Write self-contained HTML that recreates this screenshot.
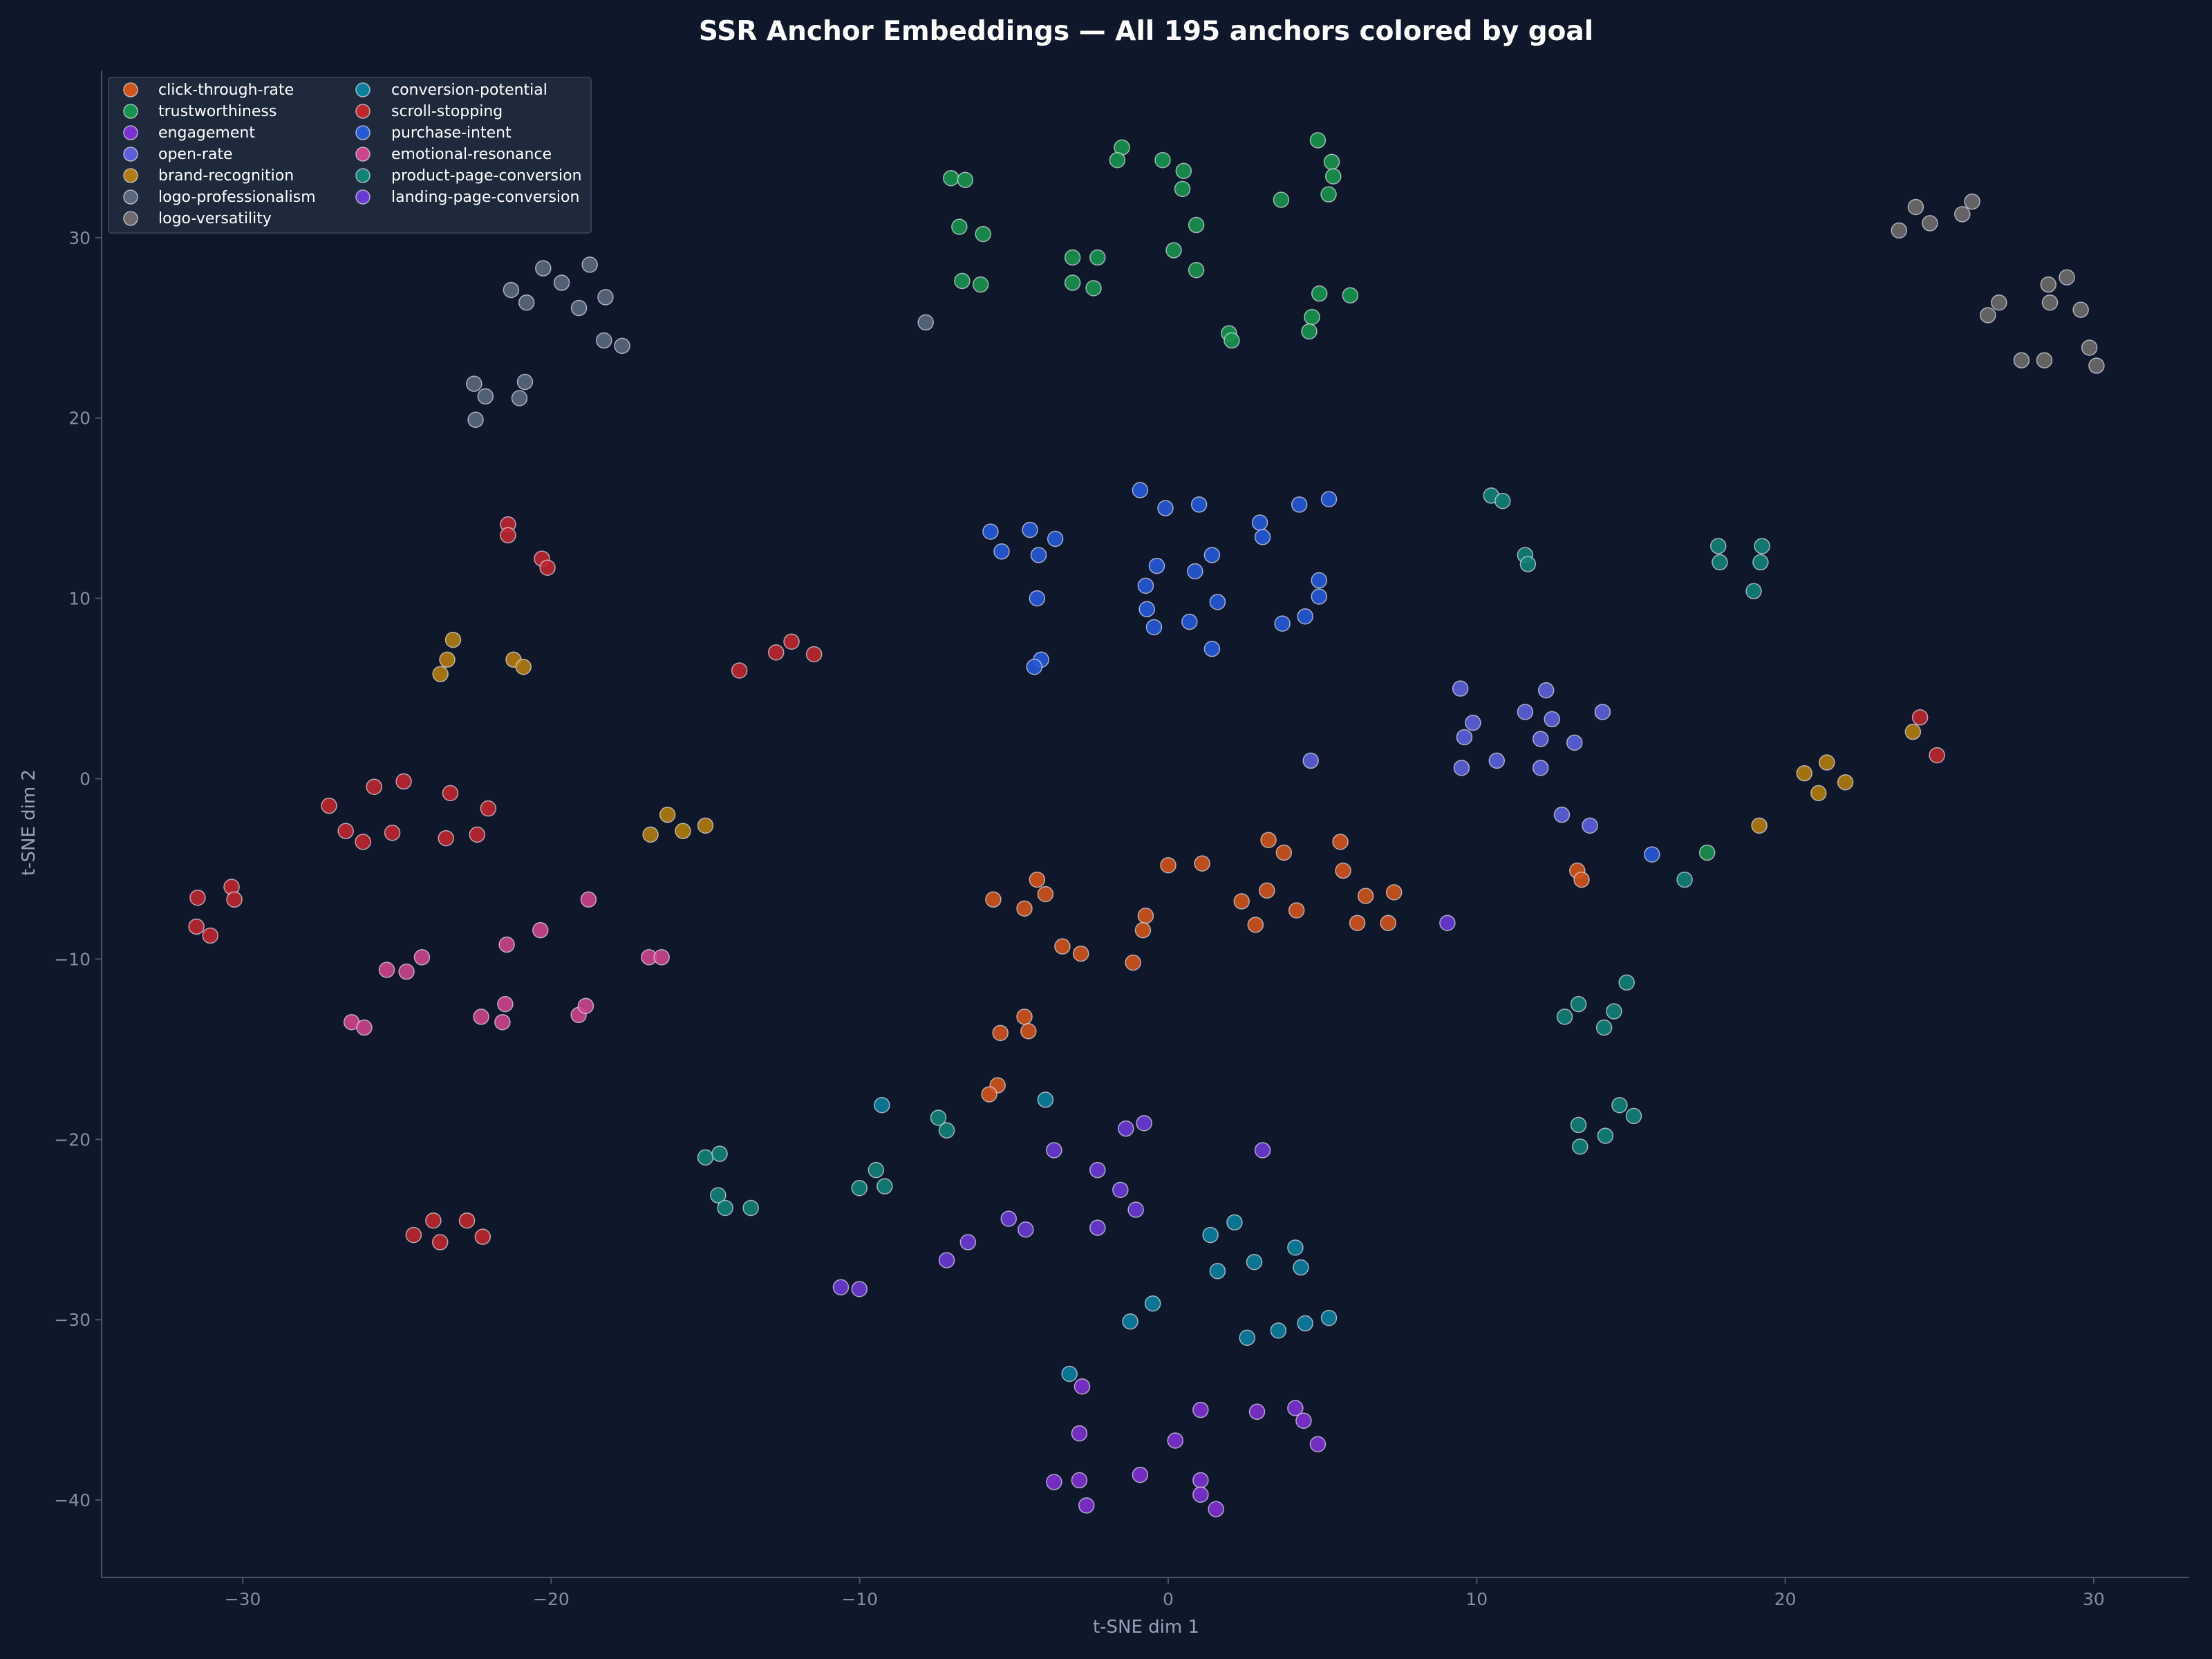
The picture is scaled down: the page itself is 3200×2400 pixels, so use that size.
<!DOCTYPE html>
<html><head><meta charset="utf-8"><style>
html,body{margin:0;padding:0;background:#0f172a;}
svg{display:block;font-family:"DejaVu Sans","Liberation Sans",sans-serif;}
</style></head><body>
<svg id="chart" width="3200" height="2400" viewBox="0 0 3200 2400" xmlns="http://www.w3.org/2000/svg">
<rect x="0" y="0" width="3200" height="2400" fill="#0f172a"/>
<text x="1658" y="58" text-anchor="middle" fill="#ffffff" font-size="39" font-weight="bold">SSR Anchor Embeddings — All 195 anchors colored by goal</text>
<g id="axes"></g>
<g id="points"></g>
<g id="legend"></g>
<text x="1658" y="2362" text-anchor="middle" fill="#94a3b8" font-size="26">t-SNE dim 1</text>
<text x="50" y="1190" text-anchor="middle" fill="#94a3b8" font-size="26" transform="rotate(-90 50 1190)">t-SNE dim 2</text>
</svg>
<script>
const goals = ["click-through-rate","trustworthiness","engagement","open-rate","brand-recognition","logo-professionalism","logo-versatility","conversion-potential","scroll-stopping","purchase-intent","emotional-resonance","product-page-conversion","landing-page-conversion"];
const colors = ["#d0531a","#16934c","#7e30d2","#5b5fdc","#b27c0e","#5a687e","#6e6a68","#0a809f","#c0262d","#2459d8","#cc448c","#108277","#6c38d6"];
const xTicks = [-30,-20,-10,0,10,20,30];
const yTicks = [30,20,10,0,-10,-20,-30,-40];

const ctrX = [-5.67,-4.66,-4.25,-3.98,-3.43,-2.83,-1.14,-0.73,-0.82,0,1.1,3.25,3.75,2.38,3.2,2.83,4.16,5.58,5.67,6.4,6.13,7.13,7.32,13.26,13.4,-4.66,-4.53,-5.44,-5.53,-5.8];
const ctrY = [-6.7,-7.2,-5.6,-6.4,-9.3,-9.7,-10.2,-7.6,-8.4,-4.8,-4.7,-3.4,-4.1,-6.8,-6.2,-8.1,-7.3,-3.5,-5.1,-6.5,-8.0,-8.0,-6.3,-5.1,-5.6,-13.2,-14.0,-14.1,-17.0,-17.5];
const trustX = [-7.04,-6.58,-6.77,-6.0,-6.68,-6.08,-3.1,-2.29,-3.1,-2.42,-1.5,-1.65,-0.18,0.5,0.46,0.91,0.18,0.91,1.97,2.06,3.66,4.85,5.3,5.35,5.2,4.9,4.66,4.57,5.9,17.47];
const trustY = [33.3,33.2,30.6,30.2,27.6,27.4,28.9,28.9,27.5,27.2,35.0,34.3,34.3,33.7,32.7,30.7,29.3,28.2,24.7,24.3,32.1,35.4,34.2,33.4,32.4,26.9,25.6,24.8,26.8,-4.1];
const engX = [-2.79,-2.88,0.23,1.05,2.88,4.12,4.39,4.85,-3.7,-2.88,-0.91,1.05,1.05,-2.65,1.55];
const engY = [-33.7,-36.3,-36.7,-35.0,-35.1,-34.9,-35.6,-36.9,-39.0,-38.9,-38.6,-38.9,-39.7,-40.3,-40.5];
const openX = [9.47,9.88,9.6,9.51,10.65,11.57,12.25,12.44,12.07,12.07,13.17,14.08,12.76,13.67,4.62];
const openY = [5.0,3.1,2.3,0.6,1.0,3.7,4.9,3.3,2.2,0.6,2.0,3.7,-2.0,-2.6,1.0];
const brandX = [-23.18,-23.37,-23.59,-21.22,-20.9,-16.23,-16.78,-15.73,-15.0,24.14,20.62,21.35,21.08,21.95,19.16];
const brandY = [7.7,6.6,5.8,6.6,6.2,-2.0,-3.1,-2.9,-2.6,2.6,0.3,0.9,-0.8,-0.2,-2.6];
const profX = [-21.3,-20.8,-20.26,-19.66,-19.1,-18.75,-18.24,-18.29,-17.7,-22.5,-22.13,-20.85,-21.03,-22.45,-7.86];
const profY = [27.1,26.4,28.3,27.5,26.1,28.5,26.7,24.3,24.0,21.9,21.2,22.0,21.1,19.9,25.3];
const versX = [23.69,24.23,24.69,25.74,26.06,26.57,26.93,27.66,28.4,28.53,28.58,29.13,29.58,29.86,30.09];
const versY = [30.4,31.7,30.8,31.3,32.0,25.7,26.4,23.2,23.2,27.4,26.4,27.8,26.0,23.9,22.9];
const convX = [-9.28,-3.98,1.37,2.15,1.6,2.79,4.12,4.3,-0.5,-1.23,2.56,3.57,4.44,5.21,-3.2];
const convY = [-18.1,-17.8,-25.3,-24.6,-27.3,-26.8,-26.0,-27.1,-29.1,-30.1,-31.0,-30.6,-30.2,-29.9,-33.0];
const scrollX = [-21.4,-21.4,-20.3,-20.12,-13.9,-12.71,-12.21,-11.48,-27.2,-26.66,-26.1,-25.74,-25.15,-24.78,-23.41,-23.27,-22.4,-22.04,-30.36,-30.27,-31.46,-31.5,-31.05,-24.46,-23.82,-23.6,-22.73,-22.22,24.37,24.92];
const scrollY = [14.1,13.5,12.2,11.7,6.0,7.0,7.6,6.9,-1.5,-2.9,-3.5,-0.45,-3.0,-0.15,-3.3,-0.8,-3.1,-1.65,-6.0,-6.7,-6.6,-8.2,-8.7,-25.3,-24.5,-25.7,-24.5,-25.4,3.4,1.3];
const purchX = [-0.91,-0.09,1.0,2.97,3.06,4.25,5.21,-5.76,-5.4,-4.48,-4.2,-3.66,-0.37,-0.73,0.87,1.42,4.89,4.89,-0.69,-0.46,0.69,1.6,1.42,3.7,4.44,-4.25,-4.12,-4.34,15.68];
const purchY = [16.0,15.0,15.2,14.2,13.4,15.2,15.5,13.7,12.6,13.8,12.4,13.3,11.8,10.7,11.5,12.4,11.0,10.1,9.4,8.4,8.7,9.8,7.2,8.6,9.0,10.0,6.6,6.2,-4.2];
const emoX = [-18.79,-20.35,-21.44,-25.33,-24.69,-24.19,-26.47,-26.06,-22.27,-21.58,-21.49,-19.11,-18.88,-16.83,-16.42];
const emoY = [-6.7,-8.4,-9.2,-10.6,-10.7,-9.9,-13.5,-13.8,-13.2,-13.5,-12.5,-13.1,-12.6,-9.9,-9.9];
const ppcX = [10.47,10.84,11.57,11.66,17.83,17.88,19.25,19.2,18.98,16.74,14.86,12.85,13.3,14.45,14.13,14.63,15.09,13.3,13.35,14.17,-15.0,-14.54,-14.59,-14.36,-13.53,-7.45,-7.18,-9.47,-10.01,-9.19];
const ppcY = [15.7,15.4,12.4,11.9,12.9,12.0,12.9,12.0,10.4,-5.6,-11.3,-13.2,-12.5,-12.9,-13.8,-18.1,-18.7,-19.2,-20.4,-19.8,-21.0,-20.8,-23.1,-23.8,-23.8,-18.8,-19.5,-21.7,-22.7,-22.6];
const landX = [-3.7,-2.29,-1.37,-0.78,3.06,-1.55,-1.05,-2.29,-5.17,-4.62,-6.49,-7.18,-10.61,-10.01,9.05];
const landY = [-20.6,-21.7,-19.4,-19.1,-20.6,-22.8,-23.9,-24.9,-24.4,-25.0,-25.7,-26.7,-28.2,-28.3,-8.0];

const seriesX = [ctrX,trustX,engX,openX,brandX,profX,versX,convX,scrollX,purchX,emoX,ppcX,landX];
const seriesY = [ctrY,trustY,engY,openY,brandY,profY,versY,convY,scrollY,purchY,emoY,ppcY,landY];

const NS="http://www.w3.org/2000/svg";
const L=147,R=3167,T=102,B=2282;
function sx(v){return 1690+v*44.63;}
function sy(v){return 1126.5-v*26.09;}
function mk(tag,attrs,parent){const e=document.createElementNS(NS,tag);for(const k in attrs)e.setAttribute(k,attrs[k]);parent.appendChild(e);return e;}

const axes=document.getElementById('axes');
let sp=mk('line',{x1:L,y1:T,x2:L,y2:B,stroke:'#475569','stroke-width':2},axes);


sp=mk('line',{x1:L,y1:B,x2:R,y2:B,stroke:'#475569','stroke-width':2},axes);


xTicks.forEach(t=>{
  const x=sx(t);
  const tk=mk('line',{x1:x,y1:B,x2:x,y2:B+9,stroke:'#475569','stroke-width':2},axes);
  
  
  const tx=mk('text',{x:x,y:B+40,'text-anchor':'middle',fill:'#8390a4','font-size':25},axes);
  tx.textContent=t<0?'\u2212'+Math.abs(t):String(t);
  
  
});
yTicks.forEach(t=>{
  const y=sy(t);
  const tk=mk('line',{x1:L-9,y1:y,x2:L,y2:y,stroke:'#475569','stroke-width':2},axes);
  
  
  const tx=mk('text',{x:L-16,y:y+9,'text-anchor':'end',fill:'#8390a4','font-size':25},axes);
  tx.textContent=t<0?'\u2212'+Math.abs(t):String(t);
  
  
});

const pts=document.getElementById('points');
seriesX.forEach((xs,gi)=>{
  const g=mk('g',{},pts);
  
  
  xs.forEach((xv,i)=>{
    const c=mk('circle',{cx:sx(xv),cy:sy(seriesY[gi][i]),r:11,fill:colors[gi],'fill-opacity':0.9,stroke:'#dfe3ea','stroke-opacity':0.7,'stroke-width':1.5},g);
    
    
  });
});

const leg=document.getElementById('legend');
const box=mk('rect',{x:157,y:112,width:698,height:225,rx:4,fill:'#1e293b',stroke:'#334155','stroke-width':2},leg);


goals.forEach((gname,i)=>{
  const col=i<7?0:1, row=i<7?i:i-7;
  const mx=col===0?189:525, tx=col===0?229:566, y=130+row*31;
  const g=mk('g',{},leg);
  
  
  const c=mk('circle',{cx:mx,cy:y,r:10,fill:colors[i],stroke:'#dfe3ea','stroke-opacity':0.7,'stroke-width':1.5},g);
  
  
  const t=mk('text',{x:tx,y:y+7,fill:'#ffffff','font-size':22},g);
  t.textContent=gname;
  
  
});
</script>
</body></html>
